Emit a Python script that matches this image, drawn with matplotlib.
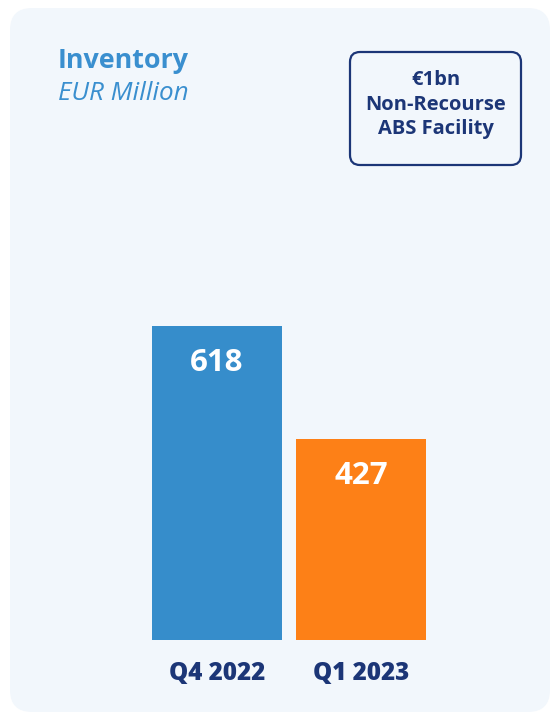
import matplotlib
matplotlib.use("Agg")
import matplotlib.pyplot as plt
from matplotlib.patches import FancyBboxPatch
from matplotlib import font_manager as fm

categories = ["Q4 2022", "Q1 2023"]
values = [618, 427]
bar_colors = ["#368dcb", "#fd8017"]
value_labels = ["618", "427"]
title = "Inventory"
subtitle = "EUR Million"
box_lines = ["€1bn", "Non-Recourse", "ABS Facility"]


def fp(fname, size, fallback_weight="bold", fallback_style="normal"):
    for f in fm.fontManager.ttflist:
        if f.fname.endswith("/" + fname):
            return fm.FontProperties(fname=f.fname, size=size)
    return fm.FontProperties(family="DejaVu Sans", weight=fallback_weight,
                             style=fallback_style, size=size)


W, H = 552, 714
fig = plt.figure(figsize=(W / 100, H / 100), dpi=100)
fig.patch.set_facecolor("white")

NAVY = "#1c3677"
TITLE_C = "#3a8fcf"
CARD = "#f2f7fc"

bg = fig.add_axes([0, 0, 1, 1])
bg.set_xlim(0, W)
bg.set_ylim(H, 0)
bg.axis("off")
bg.add_patch(FancyBboxPatch((10 + 22, 8 + 22), 540 - 44, 704 - 44,
                            boxstyle="round,pad=22", facecolor=CARD,
                            edgecolor="none"))
bg.add_patch(FancyBboxPatch((350 + 10, 52 + 10), 171 - 20, 113 - 20,
                            boxstyle="round,pad=10", facecolor="none",
                            edgecolor=NAVY, linewidth=1.6))
box_fp = fp("OpenSans-Bold.ttf", 14.5)
for i, line in enumerate(box_lines):
    bg.text(436, 80 + i * 24.5, line, ha="center", va="center",
            fontproperties=box_fp, color=NAVY)
bg.text(58, 61.5, title, ha="left", va="center",
        fontproperties=fp("OpenSans-Bold.ttf", 19.4), color=TITLE_C)
bg.text(58, 93.5, subtitle, ha="left", va="center",
        fontproperties=fp("OpenSans-Italic.ttf", 18.8, "normal", "italic"),
        color=TITLE_C)

bottom_px, top_px = 640, 200
ax = fig.add_axes([0, (H - bottom_px) / H, 1, (bottom_px - top_px) / H])
ax.set_facecolor("none")
x = list(range(len(categories)))
ax.bar(x, values, width=130 / 144, color=bar_colors, bottom=0)
ax.set_xlim(-217 / 144, (552 - 217) / 144)
s = 0.5916
y0 = 691.6
ax.set_ylim((y0 - bottom_px) / s, (y0 - top_px) / s)
val_fp = fp("OpenSans-Bold.ttf", 22.5)
for xi, v, lab in zip(x, values, value_labels):
    ax.text(xi, v - 37 / s, lab, ha="center", va="center",
            fontproperties=val_fp, color="white")
ax.set_xticks(x)
ax.set_xticklabels(categories)
ax.tick_params(axis="x", length=0, pad=15, labelcolor=NAVY)
tick_fp = fp("OpenSans-ExtraBold.ttf", 17.4)
for t in ax.get_xticklabels():
    t.set_fontproperties(tick_fp)
ax.set_yticks([])
for sp in ax.spines.values():
    sp.set_visible(False)

fig.savefig("out.png", dpi=100, facecolor="white")
